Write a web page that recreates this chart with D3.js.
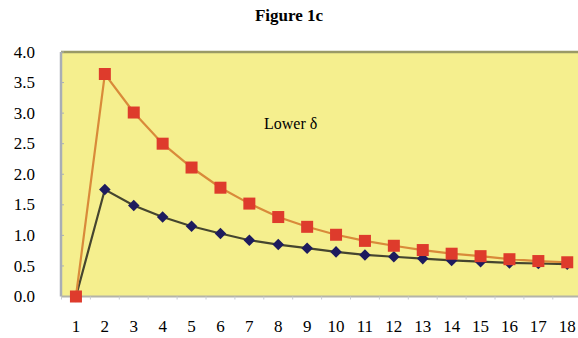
<!DOCTYPE html>
<html>
<head>
<meta charset="utf-8">
<script src="https://cdn.jsdelivr.net/npm/d3@7"></script>
<style>
  body { margin: 0; background: #fff; }
  svg { display: block; font-family: "Liberation Serif", "Times New Roman", serif; }
</style>
</head>
<body>
<svg id="chart" width="578" height="338"></svg>
<script>
const periods = d3.range(1, 19);
const higherSeries = [0, 3.64, 3.01, 2.50, 2.11, 1.78, 1.52, 1.30, 1.14, 1.01, 0.91, 0.83, 0.76, 0.70, 0.66, 0.61, 0.58, 0.56];
const lowerSeries = [0, 1.75, 1.49, 1.30, 1.15, 1.03, 0.92, 0.85, 0.79, 0.73, 0.68, 0.65, 0.62, 0.59, 0.57, 0.55, 0.54, 0.53];
const yTicks = [0, 0.5, 1, 1.5, 2, 2.5, 3, 3.5, 4];

const svg = d3.select("#chart");
const margin = { top: 52, left: 61, bottom: 296.5 };
const plotRight = 61.5 + 18 * 28.9;

const x = d3.scaleBand()
    .domain(periods)
    .range([margin.left + 0.5, plotRight]);

const y = d3.scaleLinear()
    .domain([0, 4])
    .range([margin.bottom, margin.top]);

// plot background
svg.append("rect")
    .attr("x", margin.left)
    .attr("y", margin.top)
    .attr("width", plotRight - margin.left)
    .attr("height", margin.bottom - margin.top)
    .style("fill", "#f5ef8e");

// top border band
svg.append("line")
    .attr("x1", margin.left).attr("x2", plotRight)
    .attr("y1", margin.top).attr("y2", margin.top)
    .style("stroke", "#9a9a66").style("stroke-width", 2.5);

// left axis
svg.append("line")
    .attr("x1", margin.left).attr("x2", margin.left)
    .attr("y1", margin.top).attr("y2", margin.bottom)
    .style("stroke", "#a9aeb6").style("stroke-width", 2.5);

svg.selectAll(".ytick")
    .data(yTicks)
    .enter().append("line")
    .attr("class", "ytick")
    .attr("x1", margin.left).attr("x2", margin.left + 3)
    .attr("y1", d => y(d)).attr("y2", d => y(d))
    .style("stroke", "#a9aeb6").style("stroke-width", 1);

svg.selectAll(".ylabel")
    .data(yTicks)
    .enter().append("text")
    .attr("class", "ylabel")
    .attr("x", 35)
    .attr("y", d => y(d))
    .attr("text-anchor", "end")
    .attr("dy", "0.33em")
    .style("font-size", "17px")
    .text(d => d.toFixed(1));

// bottom axis
svg.append("line")
    .attr("x1", margin.left).attr("x2", plotRight)
    .attr("y1", margin.bottom).attr("y2", margin.bottom)
    .style("stroke", "#b4b4a8").style("stroke-width", 2);

svg.selectAll(".xtick")
    .data(periods)
    .enter().append("line")
    .attr("class", "xtick")
    .attr("x1", d => x(d)).attr("x2", d => x(d))
    .attr("y1", margin.bottom).attr("y2", margin.bottom + 3)
    .style("stroke", "#c8ccd2").style("stroke-width", 1);

svg.selectAll(".xlabel")
    .data(periods)
    .enter().append("text")
    .attr("class", "xlabel")
    .attr("x", d => x(d) + x.bandwidth() / 2)
    .attr("y", 332)
    .attr("text-anchor", "middle")
    .style("font-size", "17px")
    .text(d => d);

const line = d3.line()
    .x((d, i) => x(periods[i]) + x.bandwidth() / 2)
    .y(d => y(d));

// lower series (diamonds)
svg.append("path")
    .datum(lowerSeries)
    .attr("d", line)
    .style("fill", "none")
    .style("stroke", "#45452f")
    .style("stroke-width", 2.2);

svg.selectAll(".diamond")
    .data(lowerSeries)
    .enter().append("path")
    .attr("class", "diamond")
    .attr("d", d3.symbol().type(d3.symbolDiamond2).size(85))
    .attr("transform", (d, i) => "translate(" + (x(periods[i]) + x.bandwidth() / 2) + "," + y(d) + ")")
    .style("fill", "#1d1b5e");

// higher series (squares)
svg.append("path")
    .datum(higherSeries)
    .attr("d", line)
    .style("fill", "none")
    .style("stroke", "#d98a3a")
    .style("stroke-width", 2.2);

svg.selectAll(".square")
    .data(higherSeries)
    .enter().append("rect")
    .attr("class", "square")
    .attr("x", (d, i) => x(periods[i]) + x.bandwidth() / 2 - 6)
    .attr("y", d => y(d) - 6)
    .attr("width", 12)
    .attr("height", 12)
    .style("fill", "#de3b2c");

// title and annotation
svg.append("text")
    .attr("x", 289)
    .attr("y", 21)
    .attr("text-anchor", "middle")
    .style("font-size", "17px")
    .style("font-weight", "bold")
    .text("Figure 1c");

svg.append("text")
    .attr("x", 264)
    .attr("y", 129)
    .style("font-size", "16px")
    .text("Lower δ");
</script>
</body>
</html>
